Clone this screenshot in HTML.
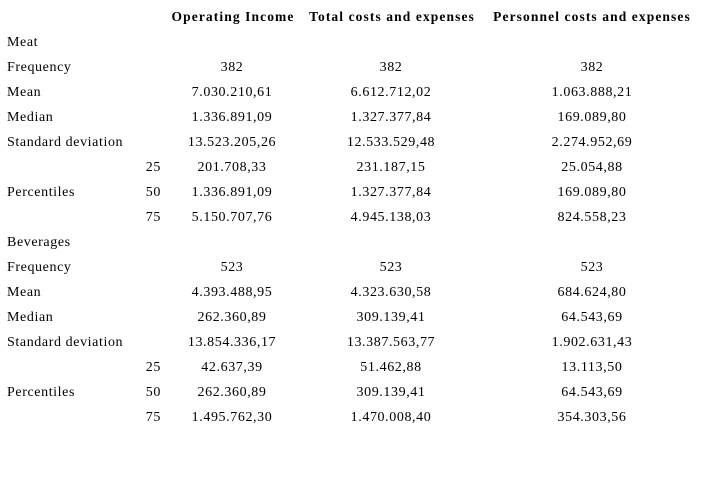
<!DOCTYPE html><html><head><style>
body{margin:0;width:705px;height:484px;background:#fff;font-family:"Liberation Serif",serif;font-size:14px;color:#000;position:relative;overflow:hidden}
div{position:absolute;white-space:nowrap;line-height:16px;letter-spacing:0.6px}
.h{font-weight:bold;font-size:13.5px;letter-spacing:1.1px}
.c{transform:translateX(-50%)}
.r{transform:translateX(-100%)}
</style></head><body>
<div class="h c" style="left:233px;top:9px">Operating Income</div>
<div class="h c" style="left:392px;top:9px">Total costs and expenses</div>
<div class="h c" style="left:592px;top:9px">Personnel costs and expenses</div>
<script>
const rows=[
["Meat","","","",""],
["Frequency","","382","382","382"],
["Mean","","7.030.210,61","6.612.712,02","1.063.888,21"],
["Median","","1.336.891,09","1.327.377,84","169.089,80"],
["Standard deviation","","13.523.205,26","12.533.529,48","2.274.952,69"],
["","25","201.708,33","231.187,15","25.054,88"],
["Percentiles","50","1.336.891,09","1.327.377,84","169.089,80"],
["","75","5.150.707,76","4.945.138,03","824.558,23"],
["Beverages","","","",""],
["Frequency","","523","523","523"],
["Mean","","4.393.488,95","4.323.630,58","684.624,80"],
["Median","","262.360,89","309.139,41","64.543,69"],
["Standard deviation","","13.854.336,17","13.387.563,77","1.902.631,43"],
["","25","42.637,39","51.462,88","13.113,50"],
["Percentiles","50","262.360,89","309.139,41","64.543,69"],
["","75","1.495.762,30","1.470.008,40","354.303,56"]];
let h="";rows.forEach((r,i)=>{const t=35+25*i;
h+=`<div style="left:7px;top:${t}px">${r[0]}</div>`;
if(r[1])h+=`<div class="r" style="left:161px;top:${t}px">${r[1]}</div>`;
[232,391,592].forEach((x,j)=>{if(r[j+2])h+=`<div class="c" style="left:${x}px;top:${t}px">${r[j+2]}</div>`});});
document.body.insertAdjacentHTML("beforeend",h);
</script>
</body></html>
